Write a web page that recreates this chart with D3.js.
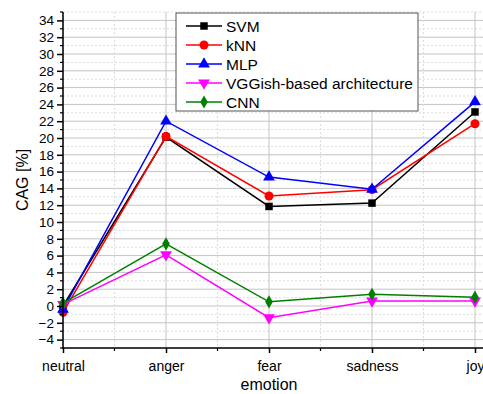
<!DOCTYPE html>
<html>
<head>
<meta charset="utf-8">
<script src="https://cdn.jsdelivr.net/npm/d3@7"></script>
<style>
  body { margin: 0; background: #fff; }
  svg { display: block; font-family: "Liberation Sans", Arial, sans-serif; }
</style>
</head>
<body>
<div id="chart"></div>
<script>
const emotions = ["neutral", "anger", "fear", "sadness", "joy"];
const svmVals = [0.0, 20.1, 11.85, 12.25, 23.1];
const knnVals = [-0.75, 20.2, 13.1, 13.85, 21.7];
const mlpVals = [-0.4, 22.0, 15.35, 13.9, 24.3];
const vggVals = [0.2, 6.1, -1.4, 0.6, 0.6];
const cnnVals = [0.35, 7.4, 0.5, 1.4, 1.05];
const yTicks = d3.range(-4, 35, 2);

const series = [
  { name: "SVM", values: svmVals, color: "#000000", marker: "square" },
  { name: "kNN", values: knnVals, color: "#ff0000", marker: "circle" },
  { name: "MLP", values: mlpVals, color: "#0000ff", marker: "triangle" },
  { name: "VGGish-based architecture", values: vggVals, color: "#ff00ff", marker: "down" },
  { name: "CNN", values: cnnVals, color: "#008000", marker: "diamond" }
];

const width = 483, height = 394;
const plotL = 63, plotT = 12, plotB = 348, plotR = 475;

const svg = d3.select("#chart").append("svg")
  .attr("width", width).attr("height", height);

const x = d3.scalePoint().domain(emotions).range([plotL, plotR]);
const y = d3.scaleLinear().domain([-5, 35]).range([plotB, plotT]);
const step = x.step();

// grid
const grid = svg.append("g");
d3.range(-5, 36, 1).forEach(v => {
  const major = v % 2 === 0;
  grid.append("line")
    .attr("x1", plotL).attr("x2", width)
    .attr("y1", y(v)).attr("y2", y(v))
    .attr("stroke", major ? "#c4c4c4" : "#dcdcdc")
    .attr("stroke-dasharray", major ? null : "2,2");
});
emotions.forEach((e, i) => {
  grid.append("line")
    .attr("x1", x(e)).attr("x2", x(e))
    .attr("y1", plotT).attr("y2", plotB)
    .attr("stroke", "#c4c4c4");
  if (i < emotions.length - 1) {
    grid.append("line")
      .attr("x1", x(e) + step / 2).attr("x2", x(e) + step / 2)
      .attr("y1", plotT).attr("y2", plotB)
      .attr("stroke", "#dcdcdc").attr("stroke-dasharray", "2,2");
  }
});

// lines
const line = d3.line()
  .x((d, i) => x(emotions[i]))
  .y(d => y(d));

const symbolFor = {
  square: d3.symbol().type(d3.symbolSquare).size(56),
  circle: d3.symbol().type(d3.symbolCircle).size(64),
  triangle: d3.symbol().type(d3.symbolTriangle).size(60),
  down: d3.symbol().type(d3.symbolTriangle).size(60),
  diamond: d3.symbol().type(d3.symbolDiamond).size(50)
};

series.forEach(s => {
  const g = svg.append("g");
  g.append("path")
    .datum(s.values)
    .attr("fill", "none")
    .attr("stroke", s.color)
    .attr("stroke-width", 1.5)
    .attr("d", line);
  g.selectAll("path.m")
    .data(s.values)
    .enter().append("path")
    .attr("class", "m")
    .attr("d", symbolFor[s.marker])
    .attr("fill", s.color)
    .attr("transform", (d, i) => `translate(${x(emotions[i])},${y(d)})` + (s.marker === "down" ? " rotate(180)" : ""));
});

// axes
const yAxis = svg.append("g")
  .attr("transform", `translate(${plotL},0)`)
  .call(d3.axisLeft(y).tickValues(yTicks).tickSize(6).tickPadding(3));
yAxis.select(".domain").remove();
yAxis.selectAll("text").attr("font-size", 13.5).attr("fill", "#000")
  .attr("font-family", "Liberation Sans, Arial, sans-serif");
yAxis.selectAll(".tick line").attr("stroke-width", 1.5);
d3.range(-5, 36, 2).forEach(v => {
  svg.append("line")
    .attr("x1", plotL - 3).attr("x2", plotL)
    .attr("y1", y(v)).attr("y2", y(v))
    .attr("stroke", "#000").attr("stroke-width", 1.2);
});
svg.append("line")
  .attr("x1", plotL).attr("x2", plotL)
  .attr("y1", plotT).attr("y2", plotB + 0.75)
  .attr("stroke", "#000").attr("stroke-width", 1.5);

const xAxis = svg.append("g")
  .attr("transform", `translate(0,${plotB})`)
  .call(d3.axisBottom(x).tickSize(5).tickPadding(8));
xAxis.select(".domain").remove();
xAxis.selectAll("text").attr("font-size", 14).attr("fill", "#000")
  .attr("font-family", "Liberation Sans, Arial, sans-serif");
xAxis.selectAll(".tick line").attr("stroke-width", 1.5);
emotions.slice(0, -1).forEach(e => {
  svg.append("line")
    .attr("x1", x(e) + step / 2).attr("x2", x(e) + step / 2)
    .attr("y1", plotB).attr("y2", plotB + 3)
    .attr("stroke", "#000").attr("stroke-width", 1.2);
});
svg.append("line")
  .attr("x1", plotL - 0.75).attr("x2", width)
  .attr("y1", plotB).attr("y2", plotB)
  .attr("stroke", "#000").attr("stroke-width", 1.5);

// titles
svg.append("text")
  .attr("x", 269).attr("y", 390)
  .attr("text-anchor", "middle")
  .attr("font-size", 16)
  .text("emotion");
svg.append("text")
  .attr("transform", `translate(28,${(plotT + plotB) / 2}) rotate(-90)`)
  .attr("text-anchor", "middle")
  .attr("font-size", 16)
  .text("CAG [%]");

// legend
const legend = svg.append("g");
legend.append("rect")
  .attr("x", 176).attr("y", 13)
  .attr("width", 242).attr("height", 98)
  .attr("fill", "#fff")
  .attr("stroke", "#555").attr("stroke-width", 1);
series.forEach((s, i) => {
  const ly = 26 + i * 19;
  legend.append("line")
    .attr("x1", 186).attr("x2", 222)
    .attr("y1", ly).attr("y2", ly)
    .attr("stroke", s.color).attr("stroke-width", 1.5);
  legend.append("path")
    .attr("d", symbolFor[s.marker])
    .attr("fill", s.color)
    .attr("transform", `translate(204,${ly})` + (s.marker === "down" ? " rotate(180)" : ""));
  legend.append("text")
    .attr("x", 226).attr("y", ly + 5.5)
    .attr("font-size", 15.5)
    .text(s.name);
});
</script>
</body>
</html>
